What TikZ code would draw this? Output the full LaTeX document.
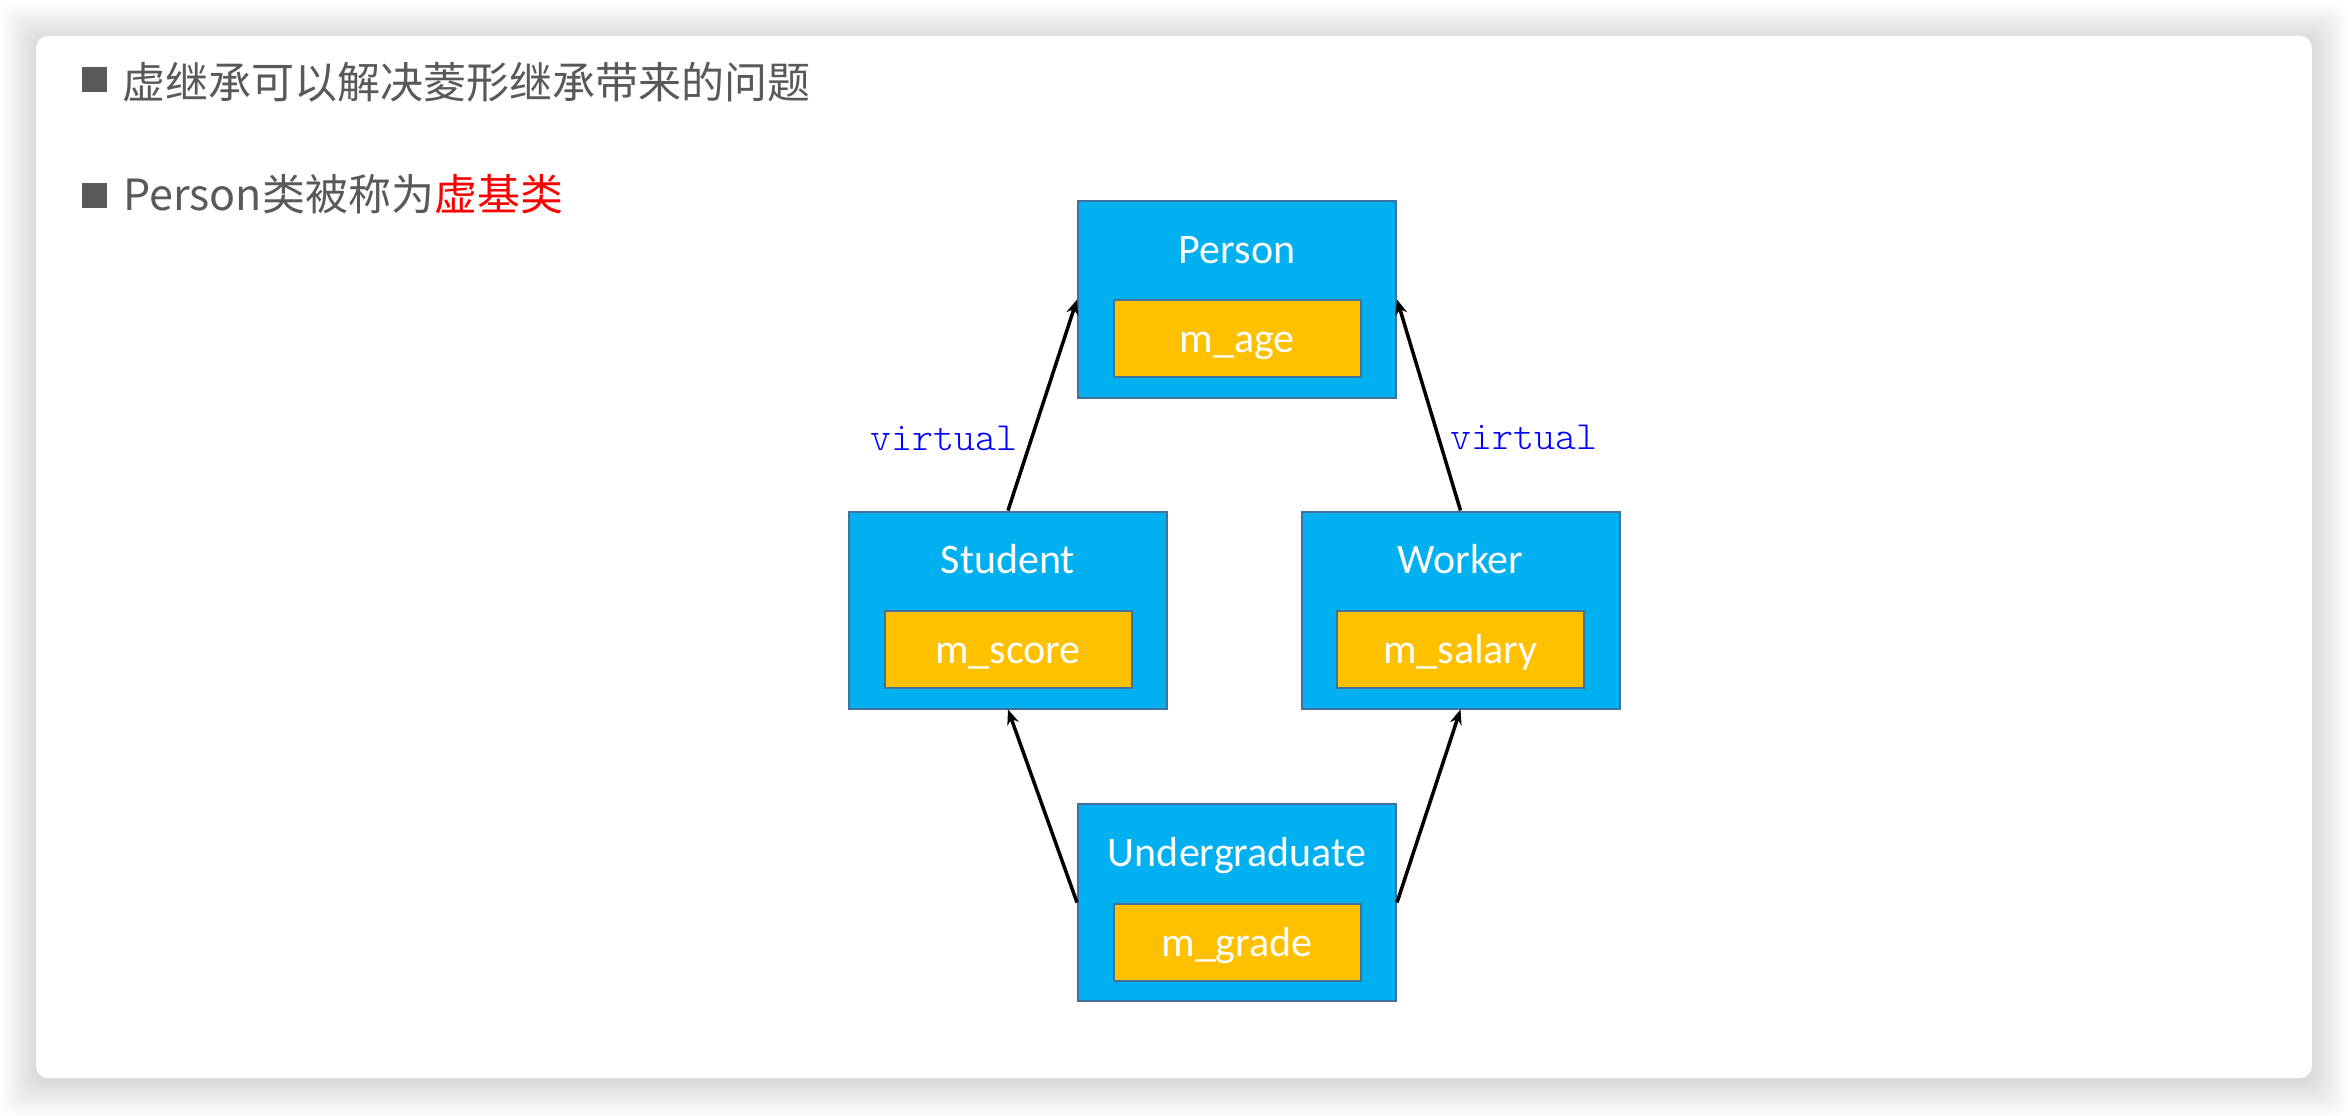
\documentclass[tikz,border=0pt]{standalone}
\usepackage{fontspec}
\newfontfamily\cjkfont{Noto Sans CJK SC}
\newfontfamily\calfont{Carlito}
\usetikzlibrary{arrows.meta,calc}
\definecolor{boxblue}{HTML}{00B0F0}
\definecolor{boxedge}{HTML}{41719C}
\definecolor{fieldfill}{HTML}{FFC000}
\definecolor{txtgray}{HTML}{595959}
\definecolor{vblue}{HTML}{0000FF}
\definecolor{hired}{HTML}{FF0000}
\begin{document}
\begin{tikzpicture}[x=1pt,y=-1pt,
  cls/.style={draw=boxedge, line width=2pt, fill=boxblue, minimum width=318pt, minimum height=197pt, inner sep=0pt},
  fld/.style={draw=boxedge, line width=2pt, fill=fieldfill, minimum width=247pt, minimum height=77pt, inner sep=0pt},
  ttl/.style={anchor=base, text=white, font=\calfont\fontsize{42}{50}\selectfont, inner sep=0pt},
  arr/.style={-{Stealth[length=15pt,width=12pt]}, line width=3.5pt, black},
  virt/.style={anchor=base, text=vblue, font=\ttfamily\fontseries{l}\fontsize{40}{45}\selectfont, inner sep=0pt},
  head/.style={anchor=base west, inner sep=0pt, text=txtgray, font=\cjkfont\fontsize{43}{50}\selectfont},
  bul/.style={fill=txtgray, minimum width=25pt, minimum height=25pt, inner sep=0pt}]
\useasboundingbox (0,0) rectangle (2348,1116);
\fill[white] (0,0) rectangle (2348,1116);
% card shadow
\foreach \i in {1,...,36}{
  \fill[black, opacity=0.005, rounded corners=12pt] ($(36-\i,36-\i+3)$) rectangle ($(2312+\i,1078+\i+3)$);
}
\fill[white, rounded corners=12pt] (36,36) rectangle (2312,1078);

% header lines
\node[bul] (b1) at (94.5,79.5) {};
\node[head] (h1) at (122,98) {虚继承可以解决菱形继承带来的问题};
\node[bul] (b2) at (94.5,195.5) {};
\node[head] (h2) at (123,210) {Person类被称为\textcolor{hired}{虚基类}};

% classes
\node[cls] (person) at (1237,299.5) {};
\node[fld] (fperson) at ($(person.center)+(0,39)$) {};
\node[ttl] (tperson) at ($(person.center)+(0,-36.5)$) {Person};
\node[ttl] (vperson) at ($(fperson.center)+(0,14)$) {m\_age};

\node[cls] (student) at (1008,610) {};
\node[fld] (fstudent) at ($(student.center)+(0,39.5)$) {};
\node[ttl] (tstudent) at ($(student.center)+(0,-36.5)$) {Student};
\node[ttl] (vstudent) at ($(fstudent.center)+(0,14)$) {m\_score};

\node[cls] (worker) at (1460.5,610) {};
\node[fld] (fworker) at ($(worker.center)+(0,39.5)$) {};
\node[ttl] (tworker) at ($(worker.center)+(0,-36.5)$) {Worker};
\node[ttl] (vworker) at ($(fworker.center)+(0,14)$) {m\_salary};

\node[cls] (under) at (1237,902.5) {};
\node[fld] (funder) at ($(under.center)+(0,39.5)$) {};
\node[ttl] (tunder) at ($(under.center)+(0,-36.5)$) {Undergraduate};
\node[ttl] (vunder) at ($(funder.center)+(0,14)$) {m\_grade};

% connectors
\draw[arr] (student.north) -- (person.west);
\draw[arr] (worker.north) -- (person.east);
\draw[arr] (under.west) -- (student.south);
\draw[arr] (under.east) -- (worker.south);

\node[virt] (v1) at (944,450) {virtual};
\node[virt] (v2) at (1524,449) {virtual};
\end{tikzpicture}
\end{document}
